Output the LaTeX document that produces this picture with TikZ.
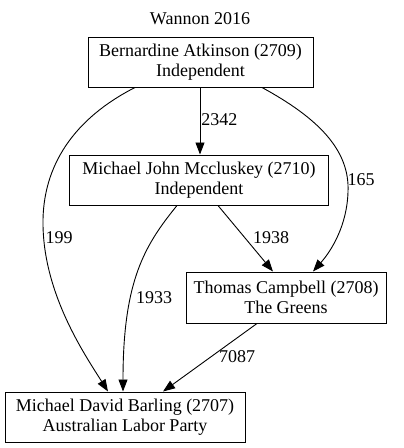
\documentclass[tikz,border=0pt]{standalone}
\usepackage{fontspec}
\setmainfont{Liberation Serif}
\usetikzlibrary{arrows.meta}
\tikzset{
  box/.style={draw, line width=1pt, rectangle, align=center, inner sep=0pt, font=\fontsize{18}{20}\selectfont},
  edge/.style={draw, line width=0.9pt, -{Triangle[length=12pt,width=9pt]}},
  lbl/.style={font=\fontsize{18}{20}\selectfont, inner sep=0pt}
}
\begin{document}
\begin{tikzpicture}[x=1pt,y=-1pt]
\useasboundingbox (0,0) rectangle (404,448);
\node[lbl] (title) at (200,19) {Wannon 2016};
\node[box, minimum width=225pt, minimum height=50pt] (b1) at (200.5,62) {Bernardine Atkinson (2709)\\Independent};
\node[box, minimum width=259pt, minimum height=50pt] (b2) at (199,180) {Michael John Mccluskey (2710)\\Independent};
\node[box, minimum width=200pt, minimum height=51pt] (b3) at (286,297.5) {Thomas Campbell (2708)\\The Greens};
\node[box, minimum width=240pt, minimum height=50pt] (b4) at (125,417) {Michael David Barling (2707)\\Australian Labor Party};
% 1 -> 2
\draw[edge] ([xshift=-0.5pt]b1.south) -- ([xshift=1pt]b2.north) node[lbl, pos=0.48, right=1pt] (l1) {2342};
% 1 -> 4
\draw[edge] ([xshift=-65.5pt]b1.south) .. controls (75,118) and (42,165) .. (43,225)
  .. controls (44,295) and (85,355) .. ([xshift=-17pt]b4.north);
\node[lbl] (l2) at (59,238) {199};
% 1 -> 3
\draw[edge] ([xshift=61.5pt]b1.south) .. controls (318,118) and (350,150) .. (348,192)
  .. controls (347,225) and (332,250) .. ([xshift=27pt]b3.north);
\node[lbl] (l3) at (361,180) {165};
% 2 -> 4
\draw[edge] ([xshift=-22pt]b2.south) .. controls (145,245) and (123,280) .. ([xshift=-2pt]b4.north);
\node[lbl] (l4) at (154,298) {1933};
% 2 -> 3
\draw[edge] ([xshift=19pt]b2.south) -- ([xshift=-13pt]b3.north);
\node[lbl] (l5) at (271,238) {1938};
% 3 -> 4
\draw[edge] ([xshift=-29pt]b3.south) -- ([xshift=38pt]b4.north);
\node[lbl] (l6) at (237,357) {7087};
\end{tikzpicture}
\end{document}
